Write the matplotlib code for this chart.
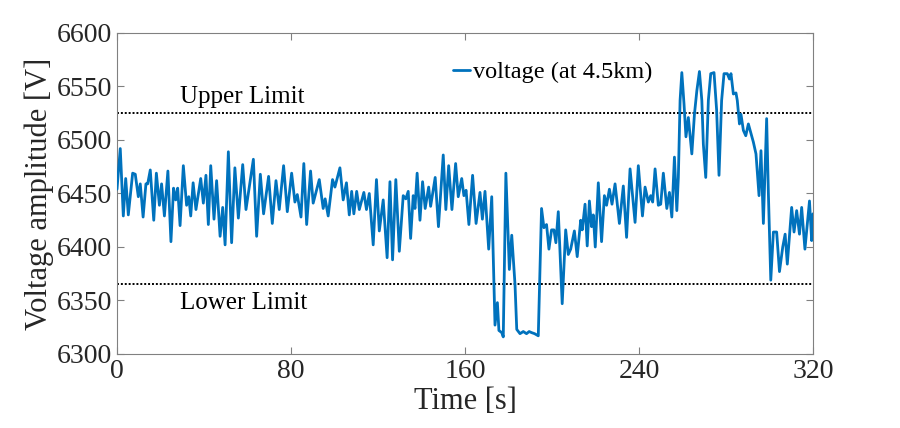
import matplotlib
matplotlib.use("Agg")
import matplotlib.pyplot as plt

plt.rcParams['font.family'] = ['Liberation Serif', 'DejaVu Serif']

time_s = [0, 1.5, 2.9, 4.0, 5.2, 7.2, 8.4, 9.8, 10.7, 12.0, 13.3, 14.1, 15.3, 16.9, 18.1, 19.5,
          20.5, 21.8, 23.4, 24.8, 26.0, 27.0, 27.9, 29.0, 30.5, 32.0, 33.0, 33.9, 35.0, 36.3,
          38.5, 39.7, 40.9, 42.0, 43.1, 44.6, 45.8, 47.4, 48.6, 49.7, 51.2, 52.7, 54.2, 55.8,
          57.8, 59.3, 62.7, 64.2, 65.9, 67.4, 69.7, 71.4, 73.1, 74.6, 76.6, 78.3, 80.3, 81.8,
          82.9, 84.6, 85.9, 87.2, 89.0, 90.2, 93.0, 94.8, 95.7, 97.1, 99.1, 100.2, 102.5, 104.0,
          105.5, 106.8, 107.9, 108.9, 110.2, 111.4, 113.5, 114.7, 116.0, 117.8, 119.3, 120.6,
          122.4, 124.2, 125.5, 126.7, 128.2, 129.8, 131.6, 132.8, 133.9, 135.0, 136.2, 137.0,
          138.0, 139.3, 140.5, 141.7, 143.3, 144.2, 146.3, 147.8, 150.0, 151.2, 152.5,
          154.0, 155.7, 156.9, 158.5, 159.5, 160.5, 161.8, 163.5, 165.1, 166.9, 168.0, 169.2,
          170.9, 172.3, 173.8, 174.9, 175.6, 176.9, 177.6, 178.8, 180.4, 181.5, 183.0, 183.8,
          185.3, 186.8, 188.3, 189.5, 190.6, 192.0, 193.7, 195.2, 196.3, 197.5, 198.6, 199.8,
          200.9, 201.8, 202.9, 204.7, 206.3, 207.5, 208.6, 210.3, 211.6, 213.2, 213.9, 215.2,
          216.2, 217.2, 218.2, 219.0, 219.9, 221.3, 222.8, 224.1, 225.1, 226.4, 227.6, 229.0,
          231.0, 232.8, 234.3, 235.9, 238.2, 239.7, 241.6, 242.8, 244.3, 245.4, 246.3, 247.4,
          248.9, 250.0, 251.2, 252.8, 254.0, 255.1, 256.3, 257.4, 258.1, 258.9, 259.7, 260.7,
          261.6, 262.7, 264.3, 265.5, 266.6, 267.8, 268.9, 269.6, 270.7, 271.9, 273.0, 274.5,
          275.7, 276.8, 278.0, 279.1, 280.6, 281.6, 282.3, 283.4, 284.6, 285.2, 286.2, 286.9,
          288.0, 289.1, 290.3, 291.4, 292.6, 293.8, 295.2, 296.1, 297.2, 298.7, 299.5, 300.6,
          301.8, 303.3, 304.6, 306.1, 307.2, 308.2, 310.2, 311.3, 312.5, 313.8, 314.8, 316.3,
          318.4, 319.4, 320.0]

voltage = [6454, 6492, 6429, 6464, 6430, 6469, 6468, 6447, 6459, 6428, 6459, 6459, 6472, 6425, 6469, 6439,
           6459, 6429, 6471, 6405, 6455, 6444, 6455, 6420, 6476, 6439, 6447, 6429, 6460, 6435,
           6464, 6441, 6467, 6421, 6476, 6426, 6462, 6410, 6437, 6402, 6489, 6404, 6474, 6427,
           6477, 6435, 6482, 6410, 6468, 6431, 6466, 6422, 6462, 6435, 6476, 6433, 6469, 6442,
           6449, 6428, 6478, 6421, 6471, 6441, 6463, 6436, 6445, 6429, 6463, 6456, 6474, 6444,
           6460, 6430, 6452, 6431, 6452, 6435, 6451, 6435, 6450, 6402, 6463, 6415,
           6444, 6390, 6461, 6388, 6463, 6396, 6448, 6445, 6452, 6408, 6448, 6436,
           6469, 6425, 6461, 6436, 6456, 6438, 6465, 6419, 6486, 6435, 6476,
           6435, 6478, 6447, 6464, 6448, 6453, 6421, 6467, 6422, 6451, 6426, 6452,
           6398, 6447, 6327, 6348, 6322, 6320, 6316, 6469, 6379, 6411, 6365, 6323,
           6319, 6321, 6319, 6321, 6320, 6319, 6317, 6436, 6418, 6421, 6398, 6416,
           6416, 6404, 6433, 6347, 6416, 6393, 6398, 6415, 6391, 6425, 6416, 6440,
           6401, 6443, 6419, 6430, 6400, 6460, 6405, 6448, 6439, 6454, 6440, 6459,
           6422, 6457, 6409, 6473, 6423, 6476, 6429, 6456, 6442, 6448, 6442, 6473,
           6439, 6440, 6469, 6436, 6451, 6428, 6484, 6434, 6465, 6537, 6563, 6534,
           6503, 6521, 6487, 6524, 6546, 6564, 6537, 6496, 6465, 6537, 6562, 6563,
           6528, 6467, 6537, 6562, 6562, 6557, 6562, 6543, 6544, 6537, 6515, 6524,
           6509, 6504, 6515, 6507, 6498, 6487, 6448, 6490, 6422, 6520, 6450, 6369,
           6414, 6414, 6377, 6400, 6412, 6384, 6437, 6414, 6434, 6412, 6437, 6398,
           6443, 6406, 6431]

upper_limit = 6525
lower_limit = 6365
x_ticks = [0, 80, 160, 240, 320]
y_ticks = [6300, 6350, 6400, 6450, 6500, 6550, 6600]

fig = plt.figure(figsize=(9, 4.28), dpi=100)
ax = fig.add_axes([0.13, 0.1729, 0.7733, 0.75])

ax.axhline(upper_limit, color='black', linestyle=(0, (1, 1)), linewidth=1.4, zorder=1)
ax.axhline(lower_limit, color='black', linestyle=(0, (1, 1)), linewidth=1.4, zorder=1)
ax.plot(time_s, voltage, color='#0072BD', linewidth=2.0, label='voltage (at 4.5km)',
        solid_joinstyle='round', solid_capstyle='round', zorder=3)

ax.set_xlim(0, 320)
ax.set_ylim(6300, 6600)
ax.set_xticks(x_ticks)
ax.set_yticks(y_ticks)

grey = (0.15, 0.15, 0.15)
for s in ax.spines.values():
    s.set_color((0.5, 0.5, 0.5))
    s.set_linewidth(0.8)
ax.tick_params(direction='in', length=5, width=0.8, colors=(0.5, 0.5, 0.5),
               labelcolor=grey, labelsize=20, top=True, right=True)

ax.set_xlabel('Time [s]', fontsize=22, color=grey, labelpad=2)
ax.set_ylabel('Voltage amplitude [V]', fontsize=22, color=grey, labelpad=2)

ax.text(29, 6540, 'Upper Limit', fontsize=18, color='black', va='center', ha='left')
ax.text(29, 6348, 'Lower Limit', fontsize=18, color='black', va='center', ha='left')

ax.legend(loc='center left', bbox_to_anchor=(0.466, 0.878), frameon=False,
          handlelength=0.7, handletextpad=0.12, borderpad=0, fontsize=17.5)

fig.savefig('out.png', dpi=100)
